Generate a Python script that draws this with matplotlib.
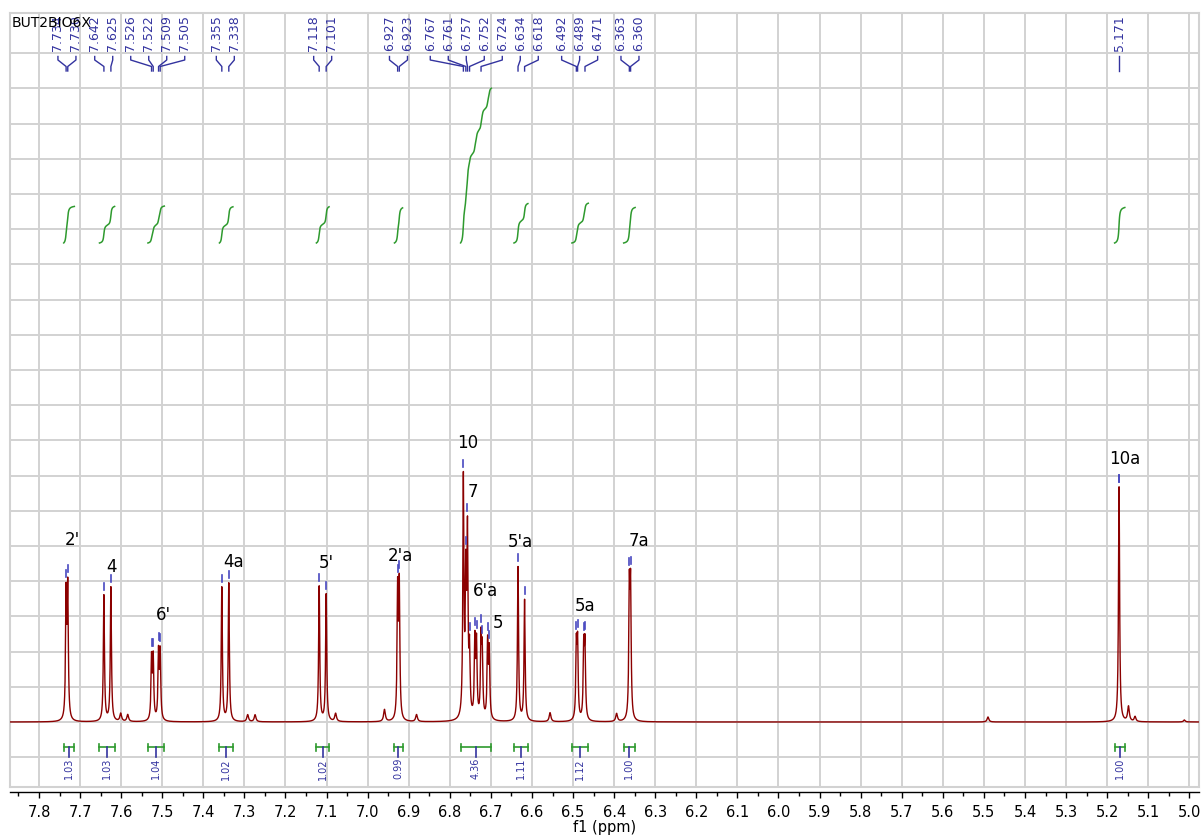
import numpy as np
import matplotlib.pyplot as plt
from matplotlib.ticker import MultipleLocator

plt.rcParams["font.family"] = ["DejaVu Sans"]

TITLE = "BUT2BIO6X"

# main peaks: chemical shift (ppm) and line height (baseline = 0)
PEAK_PPM = [7.734, 7.730, 7.642, 7.625, 7.526, 7.522, 7.509, 7.505, 7.355, 7.338,
            7.118, 7.101, 6.927, 6.923, 6.767, 6.761, 6.757, 6.752, 6.739, 6.735,
            6.724, 6.721, 6.708, 6.704, 6.634, 6.618, 6.492, 6.489, 6.474, 6.471,
            6.363, 6.360, 5.171]
PEAK_HEIGHT = [122, 128, 126, 134, 61, 61, 66, 66, 134, 138,
               135, 127, 127, 131, 236, 130, 175, 62, 76, 73,
               76, 63, 75, 67, 154, 121, 71, 73, 70, 71,
               124, 125, 235]

# small impurity / satellite lines
MINOR_PPM = [7.601, 7.584, 7.292, 7.274, 7.078, 6.959, 6.881, 6.556, 6.394, 5.490, 5.148, 5.132, 5.012]
MINOR_HEIGHT = [8, 7, 7, 7, 8, 12, 7, 9, 8, 5, 15, 5, 2]

# peak-picking labels shown along the top
PICKED_PPM = [7.734, 7.730, 7.642, 7.625, 7.526, 7.522, 7.509, 7.505, 7.355, 7.338,
              7.118, 7.101, 6.927, 6.923, 6.767, 6.761, 6.757, 6.752, 6.724, 6.634,
              6.618, 6.492, 6.489, 6.471, 6.363, 6.360, 5.171]

# integration regions
INT_FROM = [7.740, 7.653, 7.535, 7.361, 7.125, 6.935, 6.774, 6.644, 6.503, 6.377, 5.182]
INT_TO = [7.714, 7.616, 7.495, 7.328, 7.094, 6.915, 6.699, 6.610, 6.463, 6.349, 5.157]
INT_VALUE = [1.03, 1.03, 1.04, 1.02, 1.02, 0.99, 4.36, 1.11, 1.12, 1.00, 1.00]

# proton assignments
ASSIGN_TEXT = ["2'", "4", "6'", "4a", "5'", "2'a", "10", "7", "6'a", "5", "5'a", "5a", "7a", "10a"]
ASSIGN_PPM = [7.730, 7.625, 7.509, 7.338, 7.118, 6.923, 6.767, 6.757, 6.724, 6.708, 6.634, 6.489, 6.363, 5.171]
# text offset from the peak top, in pixels
ASSIGN_OFFSET = [(5, 37), (1, 20), (5, 30), (5, 21), (7, 23), (1, 17), (4, 29), (5, 24),
                 (4, 36), (10, 12), (2, 24), (7, 26), (10, 29), (6, 28)]

X_LEFT, X_RIGHT = 7.8706, 4.9764
GAMMA = 0.0016
GAMMA_MINOR = 0.0025
PX_PER_PPM = 410.8
INT_BASE, INT_SCALE = 479, 35.5

RED = "#8b0000"
BLUE = "#33339f"
GREEN = "#2e9a2e"
GRID = "#d2d2d2"


def lorentz(x, pos, hts, g):
    y = np.zeros_like(x)
    for p, h in zip(pos, hts):
        y += h * g * g / ((x - p) ** 2 + g * g)
    return y


def spread(pos, gap):
    # least-squares placement of ascending positions with a minimum gap
    blocks = []
    for i, p in enumerate(pos):
        blocks.append([p - i * gap, 1])
        while len(blocks) > 1 and blocks[-2][0] / blocks[-2][1] > blocks[-1][0] / blocks[-1][1]:
            s, c = blocks.pop()
            blocks[-1][0] += s
            blocks[-1][1] += c
    fit = []
    for s, c in blocks:
        fit += [s / c] * c
    return [v + i * gap for i, v in enumerate(fit)]


ppm = np.arange(X_RIGHT, X_LEFT, 0.0002)
spec = lorentz(ppm, PEAK_PPM, PEAK_HEIGHT, GAMMA) + lorentz(ppm, MINOR_PPM, MINOR_HEIGHT, GAMMA_MINOR)


def level(p):
    return float(np.interp(p, ppm, spec))


fig = plt.figure(figsize=(12.04, 8.38), dpi=100)
ax = fig.add_axes([10 / 1204, 51 / 838, 1189 / 1204, 774 / 838])
ax.set_xlim(X_LEFT, X_RIGHT)
ax.set_ylim(-65, 709)

ax.xaxis.set_major_locator(MultipleLocator(0.1))
ax.xaxis.set_minor_locator(MultipleLocator(0.05))
ax.set_yticks(np.arange(-1, 20) * 35.2)
ax.grid(True, which="major", color=GRID, linewidth=1.4)
ax.set_axisbelow(True)
ax.tick_params(axis="y", left=False, labelleft=False)
ax.tick_params(axis="x", which="major", direction="out", length=4.5, width=1, labelsize=10.5, pad=5)
ax.tick_params(axis="x", which="minor", direction="out", length=3, width=1)
for name in ["left", "right", "top"]:
    ax.spines[name].set_color(GRID)
    ax.spines[name].set_linewidth(1.5)
ax.spines["bottom"].set_position(("outward", 3.6))
ax.spines["bottom"].set_linewidth(1.0)
ax.plot([0, 1], [0, 0], transform=ax.transAxes, color=GRID, lw=1.5, clip_on=False)
ax.set_xlabel("f1 (ppm)", fontsize=10.5, labelpad=0)

# spectrum
ax.plot(ppm, spec, color=RED, lw=1.0, zorder=3)

# peak markers
for p in PEAK_PPM + [5.171]:
    top = level(p)
    ax.plot([p, p], [top + 5, top + 12], color="#4848c0", lw=1.2, zorder=4)

# peak-picking labels with connector lines
gap = 18 / PX_PER_PPM
label_x = [-v for v in spread([-p for p in PICKED_PPM], gap)]
for p, lx in zip(PICKED_PPM, label_x):
    ax.text(lx, 671, f"{p:.3f}", rotation=90, ha="center", va="bottom", fontsize=9, color=BLUE)
    ax.plot([lx, lx, p, p], [665.5, 662, 655.5, 651], color=BLUE, lw=1)

# integral curves and values
for a, b, v in zip(INT_FROM, INT_TO, INT_VALUE):
    m = (ppm <= a) & (ppm >= b)
    xs = ppm[m][::-1]
    cum = np.cumsum(spec[m][::-1])
    ax.plot(xs, INT_BASE + v * INT_SCALE * cum / cum[-1], color=GREEN, lw=1.1, zorder=3)
    mid = (a + b) / 2
    ax.plot([a, b], [-25, -25], color=GREEN, lw=1.2)
    ax.plot([a, a], [-21.5, -28.5], color=GREEN, lw=1.2)
    ax.plot([b, b], [-21.5, -28.5], color=GREEN, lw=1.2)
    ax.plot([mid, mid], [-25, -35], color=BLUE, lw=1.2)
    ax.text(mid, -36, f"{v:.2f}", rotation=90, ha="center", va="top", fontsize=7, color=BLUE)

# assignments
for t, p, (dx, dy) in zip(ASSIGN_TEXT, ASSIGN_PPM, ASSIGN_OFFSET):
    ax.annotate(t, (p, level(p)), xytext=(dx * 0.72, dy * 0.72), textcoords="offset points",
                ha="center", va="center", fontsize=12, color="black")

ax.text(2 / 1189, 1 - 3 / 774, TITLE, transform=ax.transAxes, ha="left", va="top", fontsize=10)

fig.savefig("out.png", dpi=100)
